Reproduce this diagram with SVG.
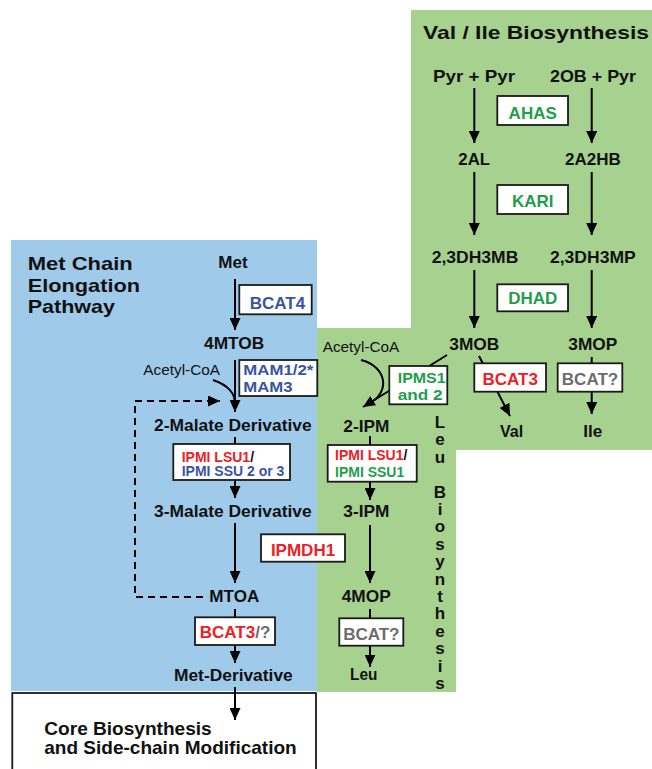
<svg xmlns="http://www.w3.org/2000/svg" width="652" height="769" viewBox="0 0 652 769">
<style>
text{font-family:"Liberation Sans",Arial,sans-serif;fill:#111}
.n{font-size:17px;font-weight:bold}
.h{font-size:19px;font-weight:bold}
.a{font-size:14px}
.e{font-size:17px;font-weight:bold;text-anchor:middle}
.s{font-size:14px;font-weight:bold}
.m{font-size:15.5px;font-weight:bold}
.v{font-size:17px;font-weight:bold;text-anchor:middle}
.g{fill:#1f9e4b}
.r{fill:#ec2027}
.b{fill:#3a54a4}
.y{fill:#6d6d6d}
.box{fill:#fff;stroke:#1a1a1a;stroke-width:1.8}
.c{fill:none;stroke:#000;stroke-width:2}
.d{fill:none;stroke:#000;stroke-width:2;stroke-dasharray:7,5}
</style>
<defs>
<marker id="ah" markerUnits="userSpaceOnUse" markerWidth="12" markerHeight="11" refX="12" refY="5.5" orient="auto">
<path d="M0,0 L12,5.5 L0,11 z" fill="#000"/>
</marker>
</defs>
<rect id="bg-white" x="0" y="0" width="652" height="769" fill="#fff"/>
<rect id="met-region" x="11" y="240" width="306" height="451" fill="#9fcaea"/>
<polygon id="valile-region" points="411,10 652,10 652,450 456,450 456,692 317,692 317,328 411,328" fill="#a7d18f"/>
<rect id="core-box" x="12.3" y="693" width="303.7" height="100" fill="#fff" stroke="#1a1a1a" stroke-width="1.8"/>

<g id="connectors">
<line class="c" x1="474.3" y1="88" x2="474.3" y2="143" marker-end="url(#ah)"/>
<line class="c" x1="591.7" y1="88" x2="591.7" y2="143" marker-end="url(#ah)"/>
<line class="c" x1="474.3" y1="172" x2="474.3" y2="235" marker-end="url(#ah)"/>
<line class="c" x1="591.7" y1="172" x2="591.7" y2="235" marker-end="url(#ah)"/>
<line class="c" x1="474.3" y1="270" x2="474.3" y2="328" marker-end="url(#ah)"/>
<line class="c" x1="591.7" y1="270" x2="591.7" y2="328" marker-end="url(#ah)"/>
<line class="c" x1="479" y1="356" x2="510" y2="416" marker-end="url(#ah)"/>
<line class="c" x1="591.7" y1="357" x2="591.7" y2="414" marker-end="url(#ah)"/>
<line class="c" x1="447" y1="355" x2="363" y2="407" marker-end="url(#ah)"/>
<path class="c" d="M361,360 C386,366 392,392 368,404"/>
<line class="c" x1="235" y1="279" x2="235" y2="330" marker-end="url(#ah)"/>
<line class="c" x1="235" y1="360" x2="235" y2="412" marker-end="url(#ah)"/>
<path class="c" d="M213,380 C228,385 236,394 234.5,404"/>
<path class="d" d="M203,597 H135 V401 H220" marker-end="url(#ah)"/>
<line class="c" x1="235" y1="437" x2="235" y2="445"/>
<line class="c" x1="235" y1="480" x2="235" y2="498" marker-end="url(#ah)"/>
<line class="c" x1="235" y1="523" x2="235" y2="583" marker-end="url(#ah)"/>
<line class="c" x1="235" y1="609" x2="235" y2="618"/>
<line class="c" x1="235" y1="645" x2="235" y2="663" marker-end="url(#ah)"/>
<line class="c" x1="235" y1="687" x2="235" y2="720" marker-end="url(#ah)"/>
<line class="c" x1="370" y1="436" x2="370" y2="446"/>
<line class="c" x1="370" y1="481.7" x2="370" y2="500" marker-end="url(#ah)"/>
<line class="c" x1="370" y1="525" x2="370" y2="583" marker-end="url(#ah)"/>
<line class="c" x1="370" y1="609" x2="370" y2="619"/>
<line class="c" x1="370" y1="645.7" x2="370" y2="666.7" marker-end="url(#ah)"/>
</g>

<g id="title-valile"><text class="h" x="423" y="39" textLength="226" lengthAdjust="spacingAndGlyphs">Val / Ile  Biosynthesis</text></g>
<g id="pyr-pyr"><text class="n" x="433" y="82" textLength="82" lengthAdjust="spacingAndGlyphs">Pyr + Pyr</text></g>
<g id="2ob-pyr"><text class="n" x="550" y="82" textLength="86" lengthAdjust="spacingAndGlyphs">2OB + Pyr</text></g>
<g id="ahas"><rect class="box" x="497.3" y="96" width="70.7" height="29"/><text class="e g" x="532.7" y="118.5">AHAS</text></g>
<g id="2al"><text class="n" x="458.3" y="165" textLength="31.7" lengthAdjust="spacingAndGlyphs">2AL</text></g>
<g id="2a2hb"><text class="n" x="565" y="165" textLength="55.7" lengthAdjust="spacingAndGlyphs">2A2HB</text></g>
<g id="kari"><rect class="box" x="497.3" y="185" width="70.7" height="29"/><text class="e g" x="532.7" y="207">KARI</text></g>
<g id="23dh3mb"><text class="n" x="431.7" y="262.7" textLength="86.6" lengthAdjust="spacingAndGlyphs">2,3DH3MB</text></g>
<g id="23dh3mp"><text class="n" x="550" y="262.7" textLength="85.7" lengthAdjust="spacingAndGlyphs">2,3DH3MP</text></g>
<g id="dhad"><rect class="box" x="497.3" y="284.3" width="70.7" height="27"/><text class="e g" x="532.7" y="304.3">DHAD</text></g>
<g id="3mob"><text class="n" x="449.3" y="350" textLength="50" lengthAdjust="spacingAndGlyphs">3MOB</text></g>
<g id="3mop"><text class="n" x="568.3" y="350" textLength="49" lengthAdjust="spacingAndGlyphs">3MOP</text></g>
<g id="bcat3-val"><rect class="box" x="474.3" y="363.3" width="71.7" height="28.4"/><text class="e r" x="510.2" y="385">BCAT3</text></g>
<g id="bcat-ile"><rect class="box" x="557.7" y="363.3" width="64.6" height="28.4"/><text class="e y" x="590" y="385">BCAT?</text></g>
<g id="val"><text class="n" x="500" y="437.3" textLength="23.3" lengthAdjust="spacingAndGlyphs">Val</text></g>
<g id="ile"><text class="n" x="583.3" y="437.3" textLength="19" lengthAdjust="spacingAndGlyphs">Ile</text></g>

<g id="acetylcoa-leu"><text class="a" x="322.7" y="352.3" textLength="76.6" lengthAdjust="spacingAndGlyphs">Acetyl-CoA</text></g>
<g id="ipms"><rect class="box" x="389.3" y="366" width="58" height="38.3"/><text class="m g" x="397.7" y="382.5" textLength="48" lengthAdjust="spacingAndGlyphs">IPMS1</text><text class="m g" x="397.7" y="400" textLength="45" lengthAdjust="spacingAndGlyphs">and 2</text></g>
<g id="2ipm"><text class="n" x="343.3" y="431.7" textLength="46" lengthAdjust="spacingAndGlyphs">2-IPM</text></g>
<g id="ipmi-leu"><rect class="box" x="327.7" y="445" width="89" height="36.7"/><text class="s" x="335" y="460"><tspan class="r">IPMI LSU1</tspan><tspan>/</tspan></text><text class="s g" x="335" y="476.7">IPMI SSU1</text></g>
<g id="3ipm"><text class="n" x="343.3" y="516.7" textLength="46" lengthAdjust="spacingAndGlyphs">3-IPM</text></g>
<g id="4mop"><text class="n" x="341.7" y="601.7" textLength="49" lengthAdjust="spacingAndGlyphs">4MOP</text></g>
<g id="bcat-leu"><rect class="box" x="339.3" y="618.3" width="64" height="27.4"/><text class="e y" x="371.3" y="640">BCAT?</text></g>
<g id="leu"><text class="n" x="350" y="680" textLength="27.3" lengthAdjust="spacingAndGlyphs">Leu</text></g>
<g id="title-leu">
<text class="v" x="440" y="428">L</text>
<text class="v" x="440" y="445.4">e</text>
<text class="v" x="440" y="462.8">u</text>
<text class="v" x="440" y="497.6">B</text>
<text class="v" x="440" y="515">i</text>
<text class="v" x="440" y="532.4">o</text>
<text class="v" x="440" y="549.8">s</text>
<text class="v" x="440" y="567.2">y</text>
<text class="v" x="440" y="584.6">n</text>
<text class="v" x="440" y="602">t</text>
<text class="v" x="440" y="619.4">h</text>
<text class="v" x="440" y="636.8">e</text>
<text class="v" x="440" y="654.2">s</text>
<text class="v" x="440" y="671.6">i</text>
<text class="v" x="440" y="689">s</text>
</g>

<g id="title-met"><text class="h" x="27.7" y="270" textLength="105" lengthAdjust="spacingAndGlyphs">Met Chain</text><text class="h" x="27.7" y="291.5" textLength="112.3" lengthAdjust="spacingAndGlyphs">Elongation</text><text class="h" x="27.7" y="313" textLength="87.3" lengthAdjust="spacingAndGlyphs">Pathway</text></g>
<g id="met"><text class="n" x="218.3" y="268.3" textLength="29.4" lengthAdjust="spacingAndGlyphs">Met</text></g>
<g id="bcat4"><rect class="box" x="239.3" y="285" width="72.4" height="29.3"/><text class="e b" x="277.5" y="309">BCAT4</text></g>
<g id="4mtob"><text class="n" x="204" y="349.3" textLength="60.3" lengthAdjust="spacingAndGlyphs">4MTOB</text></g>
<g id="mam"><rect class="box" x="239.3" y="360" width="78" height="36"/><text class="m b" x="243.3" y="375" textLength="70" lengthAdjust="spacingAndGlyphs">MAM1/2*</text><text class="m b" x="243.3" y="391.5" textLength="49.3" lengthAdjust="spacingAndGlyphs">MAM3</text></g>
<g id="acetylcoa-met"><text class="a" x="143.3" y="375" textLength="76.7" lengthAdjust="spacingAndGlyphs">Acetyl-CoA</text></g>
<g id="2-malate"><text class="n" x="154" y="431" textLength="157.7" lengthAdjust="spacingAndGlyphs">2-Malate Derivative</text></g>
<g id="ipmi-met"><rect class="box" x="173.3" y="444" width="116.7" height="36"/><text class="s" x="181.7" y="461.5"><tspan class="r">IPMI LSU1</tspan><tspan>/</tspan></text><text class="s b" x="181.7" y="476">IPMI SSU 2 or 3</text></g>
<g id="3-malate"><text class="n" x="154" y="517.3" textLength="157.7" lengthAdjust="spacingAndGlyphs">3-Malate Derivative</text></g>
<g id="ipmdh1"><rect class="box" x="261" y="534.3" width="84" height="27.4"/><text class="e r" x="303" y="556.2">IPMDH1</text></g>
<g id="mtoa"><text class="n" x="209.3" y="601.7" textLength="50" lengthAdjust="spacingAndGlyphs">MTOA</text></g>
<g id="bcat3-met"><rect class="box" x="195" y="617.3" width="80" height="27.7"/><text class="e" x="235" y="638.3"><tspan class="r">BCAT3</tspan><tspan class="y">/?</tspan></text></g>
<g id="met-derivative"><text class="n" x="174" y="681" textLength="118.7" lengthAdjust="spacingAndGlyphs">Met-Derivative</text></g>
<g id="core"><text class="h" x="44.3" y="735" textLength="167.4" lengthAdjust="spacingAndGlyphs">Core Biosynthesis</text><text class="h" x="44.3" y="754" textLength="252.4" lengthAdjust="spacingAndGlyphs">and Side-chain Modification</text></g>
</svg>
